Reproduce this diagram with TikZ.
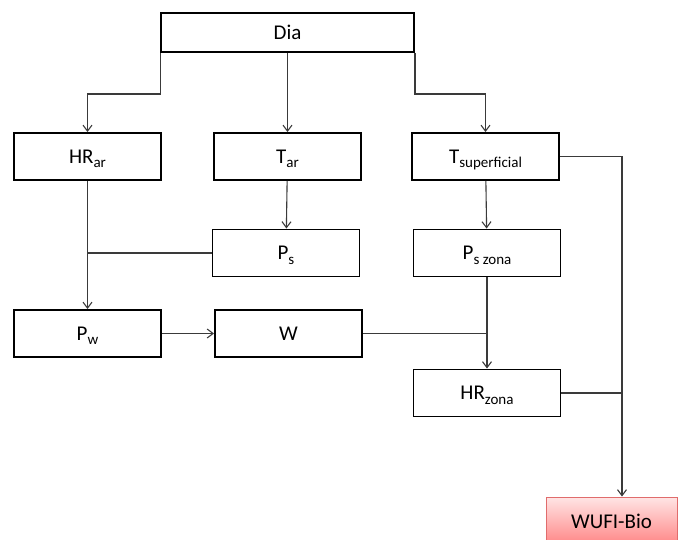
\documentclass[tikz,border=0pt]{standalone}
\usepackage{fontspec}
\setmainfont{Carlito}
\usepackage{xcolor}
\usetikzlibrary{arrows.meta,positioning}
\definecolor{boxline}{HTML}{E06C6C}
\definecolor{wire}{HTML}{3A3A3A}
\newcommand{\lo}[1]{\raisebox{-4.5pt}[0pt][0pt]{\fontsize{15}{15}\selectfont #1}}

\begin{document}
\begin{tikzpicture}[
  x=1pt,
  y=-1pt,
  var/.style={rectangle, draw=black, line width=1.9pt, fill=white, minimum width=147pt, minimum height=47pt, inner sep=2pt},
  result/.style={rectangle, draw=boxline, line width=0.9pt, top color=red!10, bottom color=red!48, minimum width=131pt, minimum height=48pt},
  flow/.style={-{Straight Barb[length=6pt,width=9pt]}, draw=wire, line width=1.1pt},
  link/.style={draw=wire, line width=1.1pt},
  every node/.style={font=\fontsize{21}{25}\selectfont}
]
\useasboundingbox (0,0) rectangle (681,539);
\clip (0,0) rectangle (681,539);

\node[var, minimum width=253pt, minimum height=39pt] (dia) at (287.5,32.5) {Dia};
\node[var] (hrar) at (87.5,156.5) {HR\lo{ar}};
\node[var] (tar) at (287.5,156.5) {T\lo{ar}};
\node[var] (tsup) at (485.5,156.5) {T\lo{superficial}};
\node[var] (ps) at (286,253) {P\lo{s}};
\node[var] (pszona) at (487,253) {P\lo{s zona}};
\node[var] (pw) at (87.5,333.5) {P\lo{w}};
\node[var] (w) at (288.5,333.5) {W};
\node[var] (hrzona) at (487,393) {HR\lo{zona}};
\node[result] (wufi) at (611.5,521) {WUFI-Bio};

\coordinate (bus) at (622,156.5);

% Dia feeds the three inputs
\draw[flow] (dia.south west) -- ++(0,41) -| (hrar);
\draw[flow] (dia) -- (tar);
\draw[flow] (dia.south east) -- ++(0,41) -| (tsup);

\draw[flow] (hrar) -- (pw);
\draw[link] (ps.west) -- (ps.west -| hrar);
\draw[flow] (tar) -- (ps);
\draw[flow] (tsup) -- (pszona);
\draw[flow] (pw) -- (w);
\draw[link] (w.east) -- (w.east -| pszona);
\draw[flow] (pszona) -- (hrzona);

% right-hand bus down to WUFI-Bio
\draw[flow] (tsup.east) -- (bus) -- (bus |- wufi.north);
\draw[link] (hrzona.east) -- (hrzona.east -| bus);
\end{tikzpicture}
\end{document}
